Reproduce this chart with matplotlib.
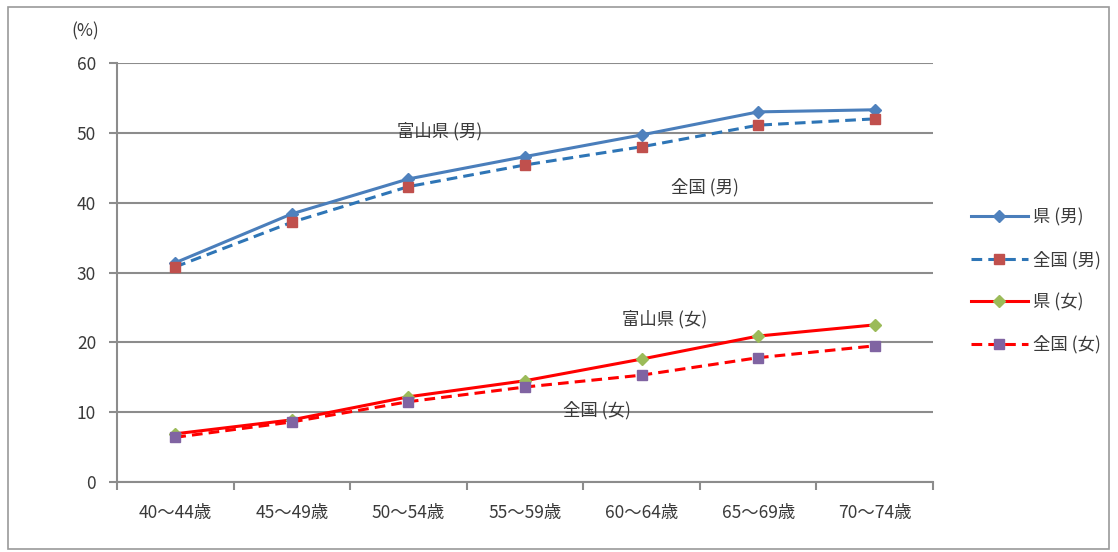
import matplotlib
matplotlib.use("Agg")
import matplotlib.pyplot as plt
from matplotlib.patches import Rectangle

plt.rcParams['font.family'] = ['Noto Sans CJK JP', 'DejaVu Sans']

categories = ["40～44歳", "45～49歳", "50～54歳", "55～59歳", "60～64歳", "65～69歳", "70～74歳"]
ken_male = [31.4, 38.4, 43.4, 46.6, 49.7, 53.0, 53.3]
zenkoku_male = [30.8, 37.2, 42.3, 45.4, 48.0, 51.1, 52.0]
ken_female = [6.9, 8.9, 12.2, 14.5, 17.6, 20.9, 22.5]
zenkoku_female = [6.4, 8.6, 11.5, 13.6, 15.3, 17.8, 19.5]
series_labels = ["県 (男)", "全国 (男)", "県 (女)", "全国 (女)"]
yticks = [0, 10, 20, 30, 40, 50, 60]

W, H = 1118, 552
fig = plt.figure(figsize=(W / 100, H / 100), dpi=100)
fig.patch.set_facecolor("white")
fig.patches.append(Rectangle((8 / W, 1 - 549 / H), (1109 - 8) / W, (549 - 7) / H,
                             transform=fig.transFigure, fill=False,
                             edgecolor="#9a9a9a", linewidth=1.2))

ax = fig.add_axes([117 / W, 1 - 482 / H, (933 - 117) / W, (482 - 63) / H])
x = list(range(len(categories)))

grid_c = "#8c8c8c"
txt_c = "#3a3a3a"
fs = 12.5
ax.set_ylim(0, 60)
ax.set_xlim(-0.5, len(categories) - 0.5)
ax.set_yticks(yticks)
ax.yaxis.grid(True, color=grid_c, linewidth=1.5)
ax.set_axisbelow(True)
for s in ["top", "right"]:
    ax.spines[s].set_visible(False)
for s in ["left", "bottom"]:
    ax.spines[s].set_color(grid_c)
    ax.spines[s].set_linewidth(1.5)

ax.set_xticks([i - 0.5 for i in range(len(categories) + 1)])
ax.set_xticklabels([])
ax.set_xticks(x, minor=True)
ax.set_xticklabels(categories, minor=True, fontsize=fs, color=txt_c)
ax.tick_params(axis="x", which="major", length=6, width=1.5, color=grid_c, direction="out")
ax.tick_params(axis="x", which="minor", length=0, pad=16)
ax.tick_params(axis="y", length=6, width=1.5, color=grid_c, labelsize=fs,
               labelcolor=txt_c, pad=9)

ax.plot(x, ken_male, color="#4A7EBB", lw=2.2, marker="D", ms=6,
        mfc="#4F81BD", mec="#4F81BD", label=series_labels[0], zorder=3)
ax.plot(x, zenkoku_male, color="#2E75B6", lw=2.2, ls=(0, (3.5, 2)), marker="s", ms=7.5,
        mfc="#C0504D", mec="#C0504D", label=series_labels[1], zorder=3)
ax.plot(x, ken_female, color="#FF0000", lw=2.2, marker="D", ms=6,
        mfc="#9BBB59", mec="#9BBB59", label=series_labels[2], zorder=3)
ax.plot(x, zenkoku_female, color="#FF0000", lw=2.2, ls=(0, (3.5, 2)), marker="s", ms=7.5,
        mfc="#8064A2", mec="#8064A2", label=series_labels[3], zorder=3)

leg = ax.legend(loc="center left", bbox_to_anchor=(955 / W, 1 - 281 / H),
                bbox_transform=fig.transFigure, frameon=False, fontsize=fs,
                handlelength=3.3, labelspacing=1.38, handletextpad=0.3)
for t in leg.get_texts():
    t.set_color(txt_c)

ann_kw = dict(transform=fig.transFigure, fontsize=fs, color=txt_c,
              ha="center", va="center")
fig.text(440 / W, 1 - 131 / H, "富山県 (男)", **ann_kw)
fig.text(705 / W, 1 - 187 / H, "全国 (男)", **ann_kw)
fig.text(665 / W, 1 - 319 / H, "富山県 (女)", **ann_kw)
fig.text(597 / W, 1 - 410 / H, "全国 (女)", **ann_kw)
fig.text(85 / W, 1 - 31 / H, "(%)", **ann_kw)

fig.savefig("out.png", dpi=100)
